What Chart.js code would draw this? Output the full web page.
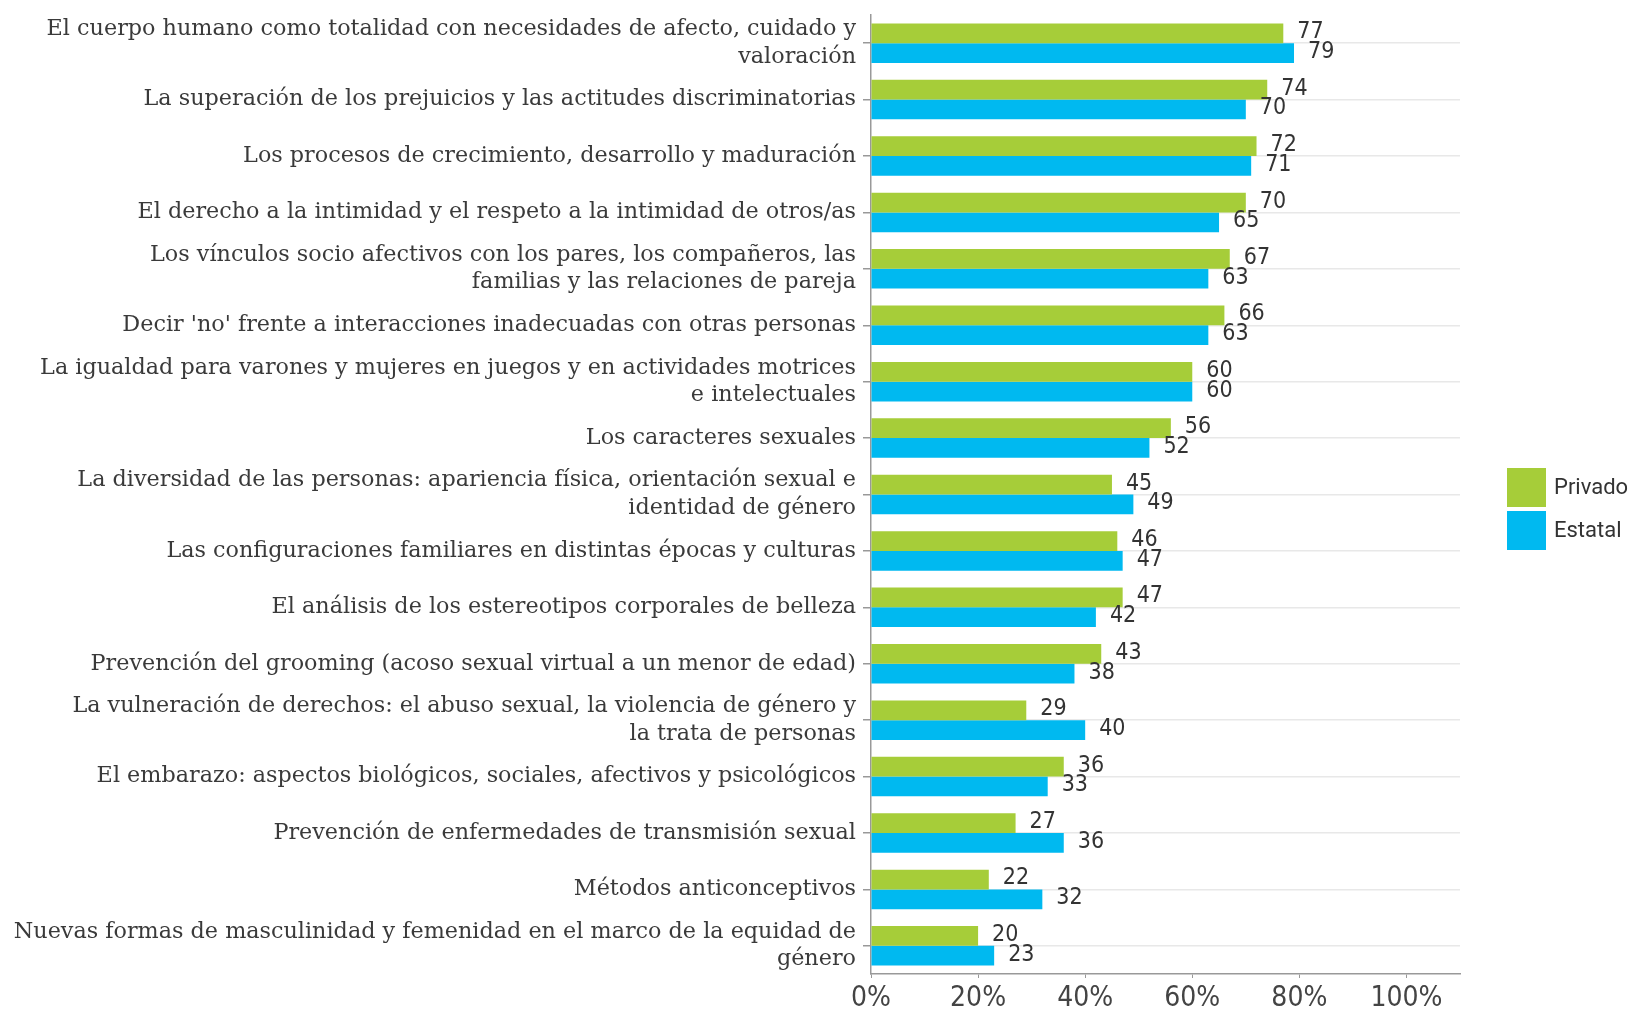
<!doctype html>
<html>
	<head>
		<title>Temas ESI</title>
		<meta charset="utf-8">
		<script src="https://cdnjs.cloudflare.com/ajax/libs/Chart.js/4.4.1/chart.umd.min.js"></script>
		<style>
			html, body { margin: 0; padding: 0; background: #fff; }
			#wrap { width: 1632px; height: 1010px; }
		</style>
	</head>
	<body>
		<div id="wrap">
			<canvas id="canvas"></canvas>
		</div>

<script>
// categorias (con cortes de linea como en el original)
var temas = [
	["El cuerpo humano como totalidad con necesidades de afecto, cuidado y", "valoración"],
	"La superación de los prejuicios y las actitudes discriminatorias",
	"Los procesos de crecimiento, desarrollo y maduración",
	"El derecho a la intimidad y el respeto a la intimidad de otros/as",
	["Los vínculos socio afectivos con los pares, los compañeros, las", "familias y las relaciones de pareja"],
	"Decir 'no' frente a interacciones inadecuadas con otras personas",
	["La igualdad para varones y mujeres en juegos y en actividades motrices", "e intelectuales"],
	"Los caracteres sexuales",
	["La diversidad de las personas: apariencia física, orientación sexual e", "identidad de género"],
	"Las configuraciones familiares en distintas épocas y culturas",
	"El análisis de los estereotipos corporales de belleza",
	"Prevención del grooming (acoso sexual virtual a un menor de edad)",
	["La vulneración de derechos: el abuso sexual, la violencia de género y", "la trata de personas"],
	"El embarazo: aspectos biológicos, sociales, afectivos y psicológicos",
	"Prevención de enfermedades de transmisión sexual",
	"Métodos anticonceptivos",
	["Nuevas formas de masculinidad y femenidad en el marco de la equidad de", "género"]
];

var privado = [77, 74, 72, 70, 67, 66, 60, 56, 45, 46, 47, 43, 29, 36, 27, 22, 20];
var estatal = [79, 70, 71, 65, 63, 63, 60, 52, 49, 47, 42, 38, 40, 33, 36, 32, 23];

var xTicks = [0, 20, 40, 60, 80, 100];

var verde = '#a6cd39';
var celeste = '#00b9f0';
var condensada = "'Liberation Sans Narrow', 'DejaVu Sans Condensed', 'Roboto', sans-serif";

// numeros al final de cada barra
var valores = {
	id: 'valores',
	afterDatasetsDraw: function(chart) {
		var ctx = chart.ctx;
		ctx.save();
		ctx.font = '23px ' + condensada;
		ctx.fillStyle = '#333';
		ctx.textAlign = 'left';
		ctx.textBaseline = 'middle';
		chart.data.datasets.forEach(function(ds, i) {
			chart.getDatasetMeta(i).data.forEach(function(bar, j) {
				ctx.fillText(ds.data[j], bar.x + 14, bar.y - 1);
			});
		});
		ctx.restore();
	}
};

// leyenda a la derecha
var leyenda = {
	id: 'leyenda',
	afterDraw: function(chart) {
		var ctx = chart.ctx;
		var x = chart.chartArea.right + 47;
		var y = chart.height / 2 - 37;
		ctx.save();
		ctx.font = '22px Roboto';
		ctx.textBaseline = 'middle';
		chart.data.datasets.forEach(function(ds, i) {
			var top = y + i * 43;
			ctx.fillStyle = ds.backgroundColor;
			ctx.fillRect(x, top, 39, 39);
			ctx.fillStyle = '#333';
			ctx.fillText(ds.label, x + 47, top + 20);
		});
		ctx.restore();
	}
};

new Chart(document.getElementById('canvas'), {
	type: 'bar',
	data: {
		labels: temas,
		datasets: [
			{ label: 'Privado', data: privado, backgroundColor: verde },
			{ label: 'Estatal', data: estatal, backgroundColor: celeste }
		]
	},
	plugins: [valores, leyenda],
	options: {
		indexAxis: 'y',
		responsive: true,
		maintainAspectRatio: false,
		animation: false,
		categoryPercentage: 0.7,
		barPercentage: 1,
		layout: { padding: { top: 15, right: 172, left: 0, bottom: 0 } },
		plugins: {
			legend: { display: false },
			tooltip: { enabled: false }
		},
		scales: {
			y: {
				afterFit: function(scale) {
					scale.width = 871;
					scale.paddingTop = 0;
					scale.paddingBottom = 0;
				},
				grid: { offset: false, color: '#e8e8e8', lineWidth: 1.5, tickLength: 8, tickColor: '#999' },
				border: { color: '#999', width: 1.5 },
				ticks: {
					autoSkip: false,
					padding: 7,
					color: '#3a3a3a',
					font: { family: 'DejaVu Serif', size: 22.3, lineHeight: 1.24 }
				}
			},
			x: {
				min: 0,
				max: 110,
				afterFit: function(scale) {
					scale.height = 36;
					scale.paddingLeft = 0;
					scale.paddingRight = 0;
				},
				afterBuildTicks: function(scale) {
					scale.ticks = xTicks.map(function(v) { return { value: v }; });
				},
				grid: { drawOnChartArea: false, tickLength: 4, tickColor: '#999' },
				border: { color: '#999', width: 1.5 },
				ticks: {
					padding: 4,
					color: '#444',
					font: { family: condensada, size: 28 },
					callback: function(v) { return v + '%'; }
				}
			}
		}
	}
});
</script>
	</body>
</html>
